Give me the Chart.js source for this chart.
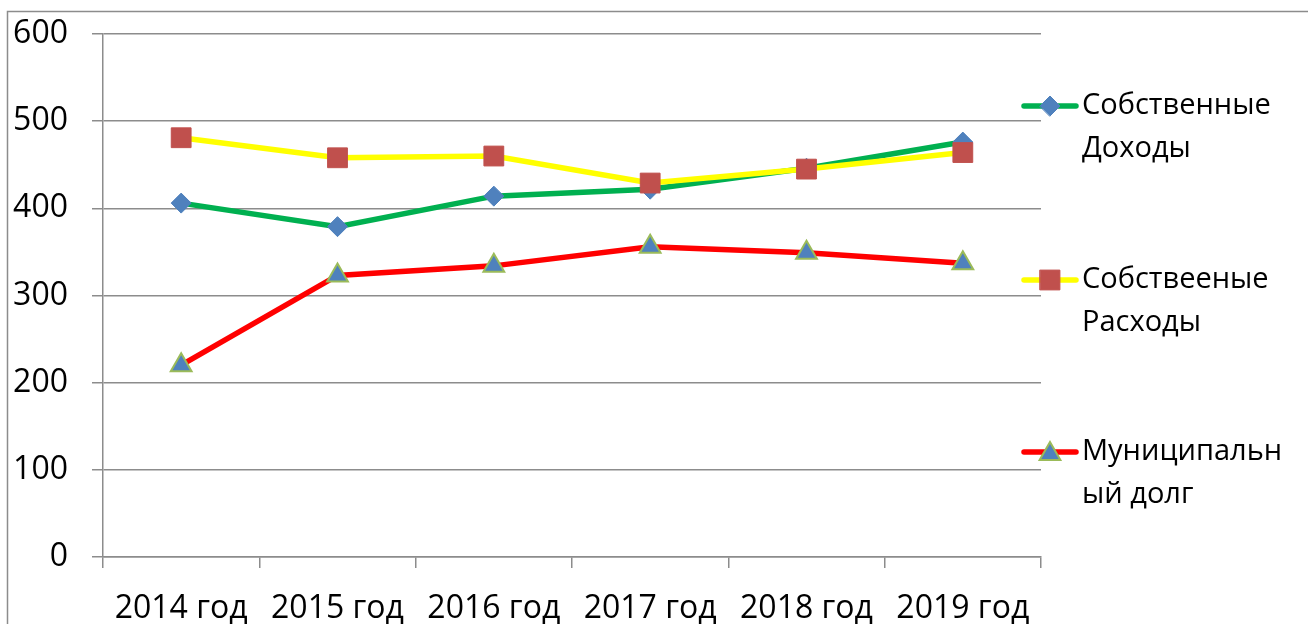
<!DOCTYPE html>
<html>
<head>
<meta charset="utf-8">
<script src="https://cdn.jsdelivr.net/npm/chart.js@4"></script>
<style>
  html, body { margin: 0; padding: 0; background: #fff; }
  canvas { display: block; }
</style>
</head>
<body>
<canvas id="budgetChart" width="1308" height="624"></canvas>
<script>
// ─── Data ─────────────────────────────────────────────────────────────────────
const years          = ['2014 год', '2015 год', '2016 год', '2017 год', '2018 год', '2019 год'];
const incomeValues   = [406, 379, 414, 422, 446, 476];
const spendingValues = [481, 458, 460, 429, 445, 464];
const debtValues     = [220, 323, 334, 356, 349, 337];
const seriesNames    = [['Собственные', 'Доходы'], ['Собствееные', 'Расходы'], ['Муниципальн', 'ый долг']];
const yMin = 0, yMax = 600, yStep = 100;

const GRID = '#8c8c8c';
const FONT = 'Open Sans';

// ─── Outer frame (the chart box is cut off at right/bottom) ──────────────────
const framePlugin = {
  id: 'frame',
  beforeDraw(chart) {
    const c = chart.ctx;
    c.save();
    c.fillStyle = '#fff';
    c.fillRect(0, 0, chart.width, chart.height);
    c.strokeStyle = GRID;
    c.lineWidth = 1.5;
    c.strokeRect(7.5, 11.5, chart.width + 50, chart.height + 50);
    c.restore();
  }
};

// ─── Right-hand legend with two-line labels ──────────────────────────────────
const sideLegend = {
  id: 'sideLegend',
  afterDraw(chart) {
    const c = chart.ctx;
    const rows = [106, 280, 452];
    c.save();
    chart.data.datasets.forEach((ds, i) => {
      const y = rows[i];
      c.strokeStyle = ds.borderColor;
      c.lineWidth = ds.borderWidth;
      c.lineCap = 'round';
      c.beginPath();
      c.moveTo(1024, y);
      c.lineTo(1076, y);
      c.stroke();
      c.fillStyle = ds.pointBackgroundColor;
      c.strokeStyle = ds.pointBorderColor;
      c.lineWidth = ds.pointBorderWidth;
      Chart.helpers.drawPoint(c, {
        pointStyle: ds.pointStyle, radius: ds.pointRadius, rotation: 0, borderWidth: ds.pointBorderWidth
      }, 1050, ds.pointStyle === 'triangle' ? y + 2 : y);
      c.fillStyle = '#000';
      c.font = `29px "${FONT}"`;
      c.textAlign = 'left';
      c.textBaseline = 'middle';
      seriesNames[i].forEach((line, k) => c.fillText(line, 1082, y + k * 43));
    });
    c.restore();
  }
};

// ─── Chart ────────────────────────────────────────────────────────────────────
const ctx = document.getElementById('budgetChart').getContext('2d');
new Chart(ctx, {
  type: 'line',
  data: {
    labels: years,
    datasets: [{
      label: seriesNames[0].join(' '),
      data: incomeValues,
      borderColor: '#00b050', borderWidth: 5.5,
      pointStyle: 'rectRot', pointRadius: 10,
      pointBackgroundColor: '#4f81bd', pointBorderColor: '#4f81bd', pointBorderWidth: 1,
      tension: 0, order: 3
    }, {
      label: seriesNames[1].join(' '),
      data: spendingValues,
      borderColor: '#ffff00', borderWidth: 5.5,
      pointStyle: 'rect', pointRadius: 14,
      pointBackgroundColor: '#c0504d', pointBorderColor: '#c0504d', pointBorderWidth: 1,
      tension: 0, order: 2
    }, {
      label: seriesNames[2].join(' '),
      data: debtValues,
      borderColor: '#ff0000', borderWidth: 5.5,
      pointStyle: 'triangle', pointRadius: 12,
      pointBackgroundColor: '#4f81bd', pointBorderColor: '#9bbb59', pointBorderWidth: 2,
      tension: 0, order: 1
    }]
  },
  options: {
    responsive: false,
    animation: false,
    layout: { autoPadding: false, padding: { left: 0, top: 34, right: 267, bottom: 0 } },
    plugins: {
      legend: { display: false },
      tooltip: { enabled: false }
    },
    scales: {
      x: {
        offset: true,
        grid: { offset: true, drawOnChartArea: false, tickLength: 11, color: GRID, lineWidth: 1.5 },
        border: { display: true, color: GRID, width: 1.5 },
        ticks: { color: '#000', font: { family: FONT, size: 32 }, padding: 22, maxRotation: 0, autoSkip: false },
        afterFit(scale) { scale.height = 67; scale.paddingLeft = 0; scale.paddingRight = 0; }
      },
      y: {
        min: yMin, max: yMax,
        grid: { color: GRID, lineWidth: 1.5, tickLength: 11 },
        border: { display: true, color: GRID, width: 1.5 },
        ticks: { stepSize: yStep, color: '#000', font: { family: FONT, size: 32 }, padding: 24 },
        afterFit(scale) { scale.width = 103; scale.paddingTop = 0; scale.paddingBottom = 0; }
      }
    }
  },
  plugins: [framePlugin, sideLegend]
});
</script>
</body>
</html>
